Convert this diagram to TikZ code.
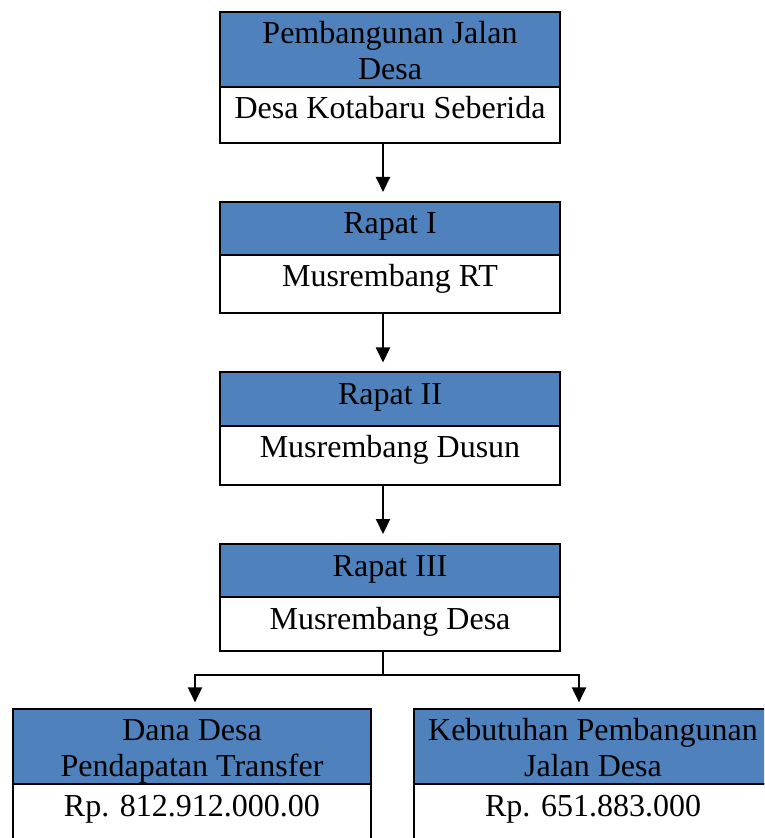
\documentclass[tikz,border=0pt]{standalone}
\usepackage{fontspec}
\setmainfont{Liberation Serif}
\usepackage{tikz}
\usetikzlibrary{arrows.meta,positioning}
\definecolor{hdrblue}{RGB}{79,129,189}
\tikzset{
every picture/.style={line width=1pt, >={Triangle[length=7.5pt,width=7pt]}},
%%%%%%%%%%  Node styles
head/.style={draw, fill=hdrblue, inner sep=0pt, outer sep=0pt, minimum width=170pt,
             align=center, text height=16pt, text depth=10.5pt,
             font=\fontsize{16}{18}\selectfont},
%two lines: baseline sits on the last line
twoline/.style={text height=33.75pt, text depth=3.75pt},
body/.style={draw, fill=white, inner sep=0pt, outer sep=0pt, minimum width=170pt,
             text height=16pt, text depth=#1,
             font=\fontsize{16}{18}\selectfont},
body/.default=12.5pt,
wide/.style={minimum width=179pt},
%%%%%%% connectors
flow/.style={->, shorten >=5pt},
fork/.style={->, shorten >=3.3pt}
}

\begin{document}
\begin{tikzpicture}[x=0.5pt,y=-0.5pt]
\useasboundingbox (0,0) rectangle (764,838);
\clip (0,0) rectangle (764,838);
%%top box
\node[head,twoline,anchor=north] (pjh) at (390,12) {Pembangunan Jalan\\Desa};
\node[body=12pt,below=0pt of pjh] (pjb) {Desa Kotabaru Seberida};
%%rapat boxes
\node[head,anchor=north] (rp1h) at (390,202) {Rapat I};
\node[body=13pt,below=0pt of rp1h] (rp1b) {Musrembang RT};
\node[head,anchor=north] (rp2h) at (390,372.5) {Rapat II};
\node[body=13.5pt,below=0pt of rp2h] (rp2b) {Musrembang Dusun};
\node[head,anchor=north] (rp3h) at (390,544) {Rapat III};
\node[body=11pt,below=0pt of rp3h] (rp3b) {Musrembang Desa};
%%bottom boxes (cut off by the page)
\node[head,twoline,wide,anchor=north] (danah) at (192,709) {Dana Desa\\Pendapatan Transfer};
\node[body=40pt,wide,below=0pt of danah] (danab) {Rp. 812.912.000.00};
\node[head,twoline,wide,anchor=north] (butuhh) at (593,709) {Kebutuhan Pembangunan\\Jalan Desa};
\node[body=40pt,wide,below=0pt of butuhh] (butuhb) {Rp. 651.883.000};
%%%%%%%%%%%%%%%%%%%%%%%
\coordinate (axis) at (383,0);
\draw[flow] (pjb.south -| axis) -- (rp1h.north -| axis);
\draw[flow] (rp1b.south -| axis) -- (rp2h.north -| axis);
\draw[flow] (rp2b.south -| axis) -- (rp3h.north -| axis);
%%split to the two bottom boxes
\coordinate (split) at (383,675);
\coordinate (splitL) at (195,675);
\coordinate (splitR) at (579,675);
\draw (rp3b.south -| axis) -- (split);
\draw[fork] (split) -| (splitL |- danah.north);
\draw[fork] (split) -| (splitR |- butuhh.north);
\end{tikzpicture}
\end{document}
